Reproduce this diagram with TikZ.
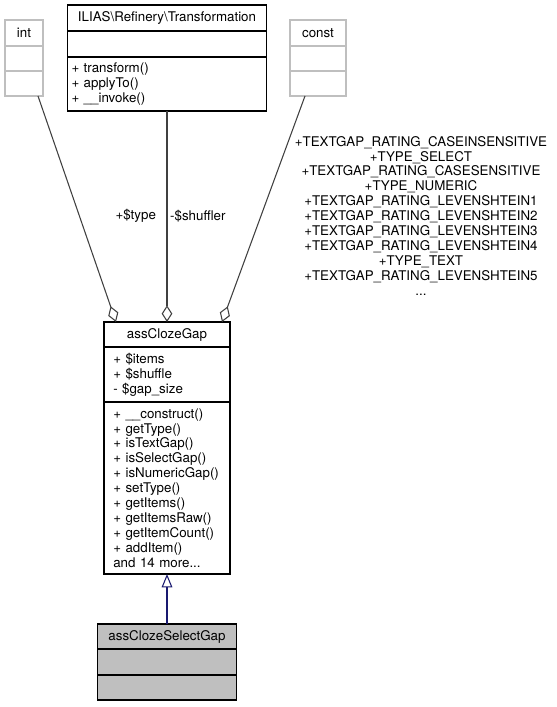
\documentclass[tikz,border=0pt]{standalone}
\usepackage{fontspec}
\setmainfont{TeX Gyre Heros}
\usetikzlibrary{arrows.meta,positioning,calc}
\definecolor{edgegray}{HTML}{404040}
\definecolor{boxgray}{HTML}{BFBFBF}
\definecolor{navyblue}{HTML}{191970}

\begin{document}
\begin{tikzpicture}[x=0.75pt,y=-0.75pt,node distance=0pt,font=\fontsize{10}{11.2}\selectfont,cls/.style={draw,line width=1pt,outer sep=0pt,inner sep=0pt,minimum width=#1,anchor=north},ext/.style={cls=#1,draw=boxgray},agg/.style={draw=edgegray,line width=0.8pt,-{Diamond[open,fill=white,length=12.5pt,width=8pt]}},isa/.style={draw=navyblue,line width=0.8pt,-{Triangle[open,fill=white,length=10pt,width=8pt]}},lbl/.style={inner sep=2pt,align=center}]
\useasboundingbox (0,0) rectangle (557,707);
\node[ext=28.5pt,minimum height=19.5pt] (intT) at (24,20) {int};
\node[ext=28.5pt,minimum height=18.75pt,below=of intT] (intA) {};
\node[ext=28.5pt,minimum height=18.75pt,below=of intA] (intM) {};
\node[cls=149.25pt,minimum height=19.5pt] (trT) at (167,5) {ILIAS\textbackslash Refinery\textbackslash Transformation};
\node[cls=149.25pt,minimum height=19.5pt,below=of trT] (trA) {};
\node[cls=149.25pt,minimum height=40.5pt,below=of trA,align=left,text width=143.25pt,inner xsep=3pt] (trM) {+ transform()\\+ applyTo()\\+ \_\_invoke()};
\node[ext=42pt,minimum height=19.5pt] (constT) at (318,20) {const};
\node[ext=42pt,minimum height=18.75pt,below=of constT] (constA) {};
\node[ext=42pt,minimum height=18.75pt,below=of constA] (constM) {};
\node[cls=94.5pt,minimum height=18.75pt] (gapT) at (167,322) {assClozeGap};
\node[cls=94.5pt,minimum height=41.25pt,below=of gapT,align=left,text width=80.5pt,inner xsep=7pt] (gapA) {+ \$items\\+ \$shuffle\\- \$gap\_size};
\node[cls=94.5pt,minimum height=129pt,below=of gapA,align=left,text width=80.5pt,inner xsep=7pt] (gapM) {+ \_\_construct()\\+ getType()\\+ isTextGap()\\+ isSelectGap()\\+ isNumericGap()\\+ setType()\\+ getItems()\\+ getItemsRaw()\\+ getItemCount()\\+ addItem()\\and 14 more...};
\node[cls=104.25pt,minimum height=18.75pt,fill=boxgray] (selT) at (167,624) {assClozeSelectGap};
\node[cls=104.25pt,minimum height=19.5pt,fill=boxgray,below=of selT] (selA) {};
\node[cls=104.25pt,minimum height=18.75pt,fill=boxgray,below=of selA] (selM) {};
\draw[agg] ($(intM.south)+(14,0)$) -- node[lbl,pos=0.53,right=24.75pt] {+\$type} ($(gapT.north)+(-51,0)$);
\draw[agg] (trM.south) -- node[lbl,midway,right] {-\$shuffler} (gapT.north);
\draw[agg] ($(constM.south)+(-13,0)$) -- node[lbl,pos=0.53,right=23pt] {+TEXTGAP\_RATING\_CASEINSENSITIVE\\+TYPE\_SELECT\\+TEXTGAP\_RATING\_CASESENSITIVE\\+TYPE\_NUMERIC\\+TEXTGAP\_RATING\_LEVENSHTEIN1\\+TEXTGAP\_RATING\_LEVENSHTEIN2\\+TEXTGAP\_RATING\_LEVENSHTEIN3\\+TEXTGAP\_RATING\_LEVENSHTEIN4\\+TYPE\_TEXT\\+TEXTGAP\_RATING\_LEVENSHTEIN5\\...} ($(gapT.north)+(55,0)$);
\draw[isa] (selT.north) -- (gapM.south);
\end{tikzpicture}
\end{document}
